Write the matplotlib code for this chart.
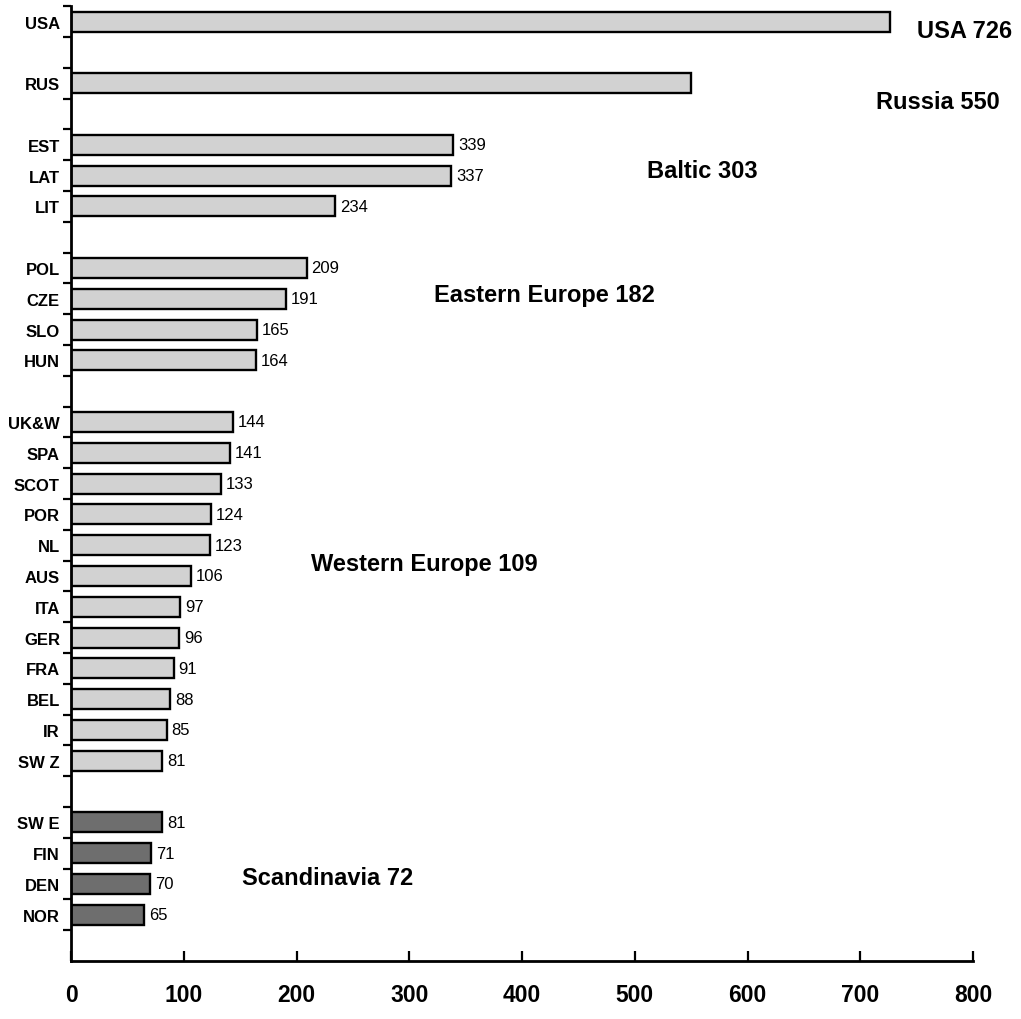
import matplotlib
matplotlib.use("Agg")
import matplotlib.pyplot as plt

plt.rcParams['font.family'] = ['Liberation Sans', 'DejaVu Sans']

# slot layout: None = empty gap slot
countries = ["USA", None, "RUS", None, "EST", "LAT", "LIT", None,
             "POL", "CZE", "SLO", "HUN", None,
             "UK&W", "SPA", "SCOT", "POR", "NL", "AUS", "ITA", "GER", "FRA", "BEL", "IR", "SW Z", None,
             "SW E", "FIN", "DEN", "NOR"]
values = [726, None, 550, None, 339, 337, 234, None,
          209, 191, 165, 164, None,
          144, 141, 133, 124, 123, 106, 97, 96, 91, 88, 85, 81, None,
          81, 71, 70, 65]
scandinavia = ["SW E", "FIN", "DEN", "NOR"]
no_value_label = ["USA", "RUS"]

group_labels = ["USA 726", "Russia 550", "Baltic 303", "Eastern Europe 182",
                "Western Europe 109", "Scandinavia 72"]
group_pos = [(750, 0.3, "left"), (714, 2.6, "left"), (560, 4.85, "center"),
             (420, 8.85, "center"), (313, 17.6, "center"), (228, 27.8, "center")]

xticks = [0, 100, 200, 300, 400, 500, 600, 700, 800]

fig = plt.figure(figsize=(10.21, 10.20), dpi=100)
left = 71 / 1021
right = 973 / 1021
ax = fig.add_axes([left, 0.0569, right - left, 0.993 - 0.0569])

light = "#d2d2d2"
dark = "#6e6e6e"
ys, labs = [], []
for i, (c, v) in enumerate(zip(countries, values)):
    if c is None:
        continue
    col = dark if c in scandinavia else light
    ax.barh(i, v, height=0.65, color=col, edgecolor="black", linewidth=1.7)
    ys.append(i)
    labs.append(c)
    if c not in no_value_label:
        ax.annotate(str(v), (v, i), xytext=(3.5, 0), textcoords="offset points",
                    va="center", ha="left", fontsize=12)

for txt, (x, y, ha) in zip(group_labels, group_pos):
    ax.text(x, y, txt, ha=ha, va="center", fontsize=17, fontweight="bold")

nslots = len(countries) + 1
ax.set_ylim(nslots - 0.5, -0.5)
ax.set_xlim(0, 800)
ax.set_yticks(ys)
ax.set_yticklabels(labs, fontsize=12, fontweight="bold")
ax.tick_params(axis="y", which="major", length=0, pad=8)
ax.set_yticks([k - 0.5 for k in range(nslots)], minor=True)
ax.tick_params(axis="y", which="minor", length=6, width=1.6, direction="out")
ax.set_xticks(xticks)
ax.set_xticklabels([str(t) for t in xticks], fontsize=16.5, fontweight="bold")
ax.tick_params(axis="x", length=7, width=1.6, direction="in", pad=16)
for s in ["top", "right"]:
    ax.spines[s].set_visible(False)
for s in ["left", "bottom"]:
    ax.spines[s].set_linewidth(2)

fig.savefig("out.png", dpi=100)
